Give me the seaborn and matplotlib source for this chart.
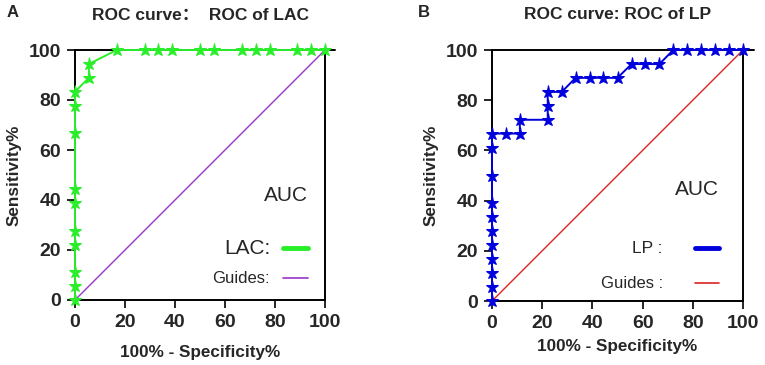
import numpy as np
import pandas as pd
import matplotlib
matplotlib.use("Agg")
import matplotlib.pyplot as plt
import seaborn as sns
from matplotlib.lines import Line2D

# --- ROC points (percent) ---
lac_fpr = [0, 0, 0, 0, 0, 0, 0, 0, 0, 0, 5.56, 5.56, 16.7, 27.8, 33.3, 38.9,
           50.0, 55.6, 66.7, 72.2, 77.8, 88.9, 94.4, 100]
lac_tpr = [0, 5.56, 11.1, 22.2, 27.8, 38.9, 44.4, 66.7, 77.8, 83.3, 88.9, 94.4,
           100, 100, 100, 100, 100, 100, 100, 100, 100, 100, 100, 100]

lp_fpr = [0, 0, 0, 0, 0, 0, 0, 0, 0, 0, 0, 5.56, 11.1, 11.1, 22.2, 22.2, 22.2,
          27.8, 33.3, 38.9, 44.4, 50.0, 55.6, 61.1, 66.7, 72.2, 77.8, 83.3,
          88.9, 94.4, 100]
lp_tpr = [0, 5.56, 11.1, 16.7, 22.2, 27.8, 33.3, 38.9, 50.0, 61.1, 66.7, 66.7,
          66.7, 72.2, 72.2, 77.8, 83.3, 83.3, 88.9, 88.9, 88.9, 88.9, 94.4,
          94.4, 94.4, 100, 100, 100, 100, 100, 100]

guide = [0, 100]
ticks = [0, 20, 40, 60, 80, 100]

sns.set_theme(style="ticks")
plt.rcParams['font.family'] = ['Liberation Sans', 'Noto Sans CJK SC', 'DejaVu Sans']
plt.rcParams['font.weight'] = 'bold'

fig = plt.figure(figsize=(7.65, 3.65), dpi=100)
ax_a = fig.add_axes([75 / 765, 65 / 365, 250 / 765, 250 / 365])
ax_b = fig.add_axes([492 / 765, 64 / 365, 251 / 765, 251 / 365])


def draw_panel(ax, fpr, tpr, color, guide_color, title, name, guide_name,
               name_size, letter, letter_x, xpad, leg_x, leg_y, textpad, spacing, sep, ext):
    df = pd.DataFrame({'x': fpr, 'y': tpr})
    sns.lineplot(data=df, x='x', y='y', ax=ax, color=color, lw=1.4, sort=False,
                 estimator=None, marker='*', markersize=9.5, markeredgecolor=color,
                 clip_on=False, zorder=4)
    sns.lineplot(x=guide, y=guide, ax=ax, color=guide_color, lw=1.0, zorder=3)
    ax.set_xlim(0, 100)
    ax.set_ylim(0, 100)
    ax.set_xticks(ticks)
    ax.set_yticks(ticks)
    for s in ax.spines.values():
        s.set_linewidth(1.4)
        s.set_color('black')
    # top frame line runs a little past the right edge, as in the original
    ax.axhline(100, xmin=1, xmax=1 + ext, color='black', lw=1.4, clip_on=False)
    ax.tick_params(direction='out', length=6, width=1.4, labelsize=14, pad=4)
    for lab in ax.get_xticklabels() + ax.get_yticklabels():
        lab.set_fontweight('bold')
    ax.set_xlabel('100% - Specificity%', fontsize=12.3, fontweight='bold', labelpad=xpad)
    ax.set_ylabel('Sensitivity%', fontsize=12.3, fontweight='bold', labelpad=5)
    ax.set_title(title, fontsize=12.5, fontweight='bold', pad=22)

    handles = [Line2D([], [], color=color, lw=3.5),
               Line2D([], [], color=guide_color, lw=1.2)]
    leg = ax.legend(handles, [name, guide_name], title='AUC', loc='lower right',
                    bbox_to_anchor=(leg_x, leg_y), markerfirst=False, frameon=False,
                    handlelength=1.6, handletextpad=textpad, labelspacing=spacing,
                    title_fontsize=15)
    leg.get_title().set_fontweight('normal')
    leg._legend_box.sep = sep
    leg._legend_box.align = 'right'
    texts = leg.get_texts()
    texts[0].set_fontsize(name_size)
    texts[0].set_fontweight('normal')
    texts[1].set_fontsize(12)
    texts[1].set_fontweight('normal')
    fig.text(letter_x, 1 - 17 / 365, letter, fontsize=12, fontweight='bold',
             ha='left', va='baseline')


draw_panel(ax_a, lac_fpr, lac_tpr, '#2aee2a', '#9933cc', 'ROC curve：  ROC of LAC',
           'LAC:', 'Guides:', 15, 'A', 7 / 765, 10, 0.985, 0.0, 0.85, 0.9, 24, 0.04)
draw_panel(ax_b, lp_fpr, lp_tpr, '#0000dd', '#dd2222', 'ROC curve: ROC of LP',
           'LP :', 'Guides :', 12.5, 'B', 418 / 765, 5, 0.96, -0.015, 2.1, 1.3, 30, 0.045)

fig.savefig('out.png', dpi=100)
